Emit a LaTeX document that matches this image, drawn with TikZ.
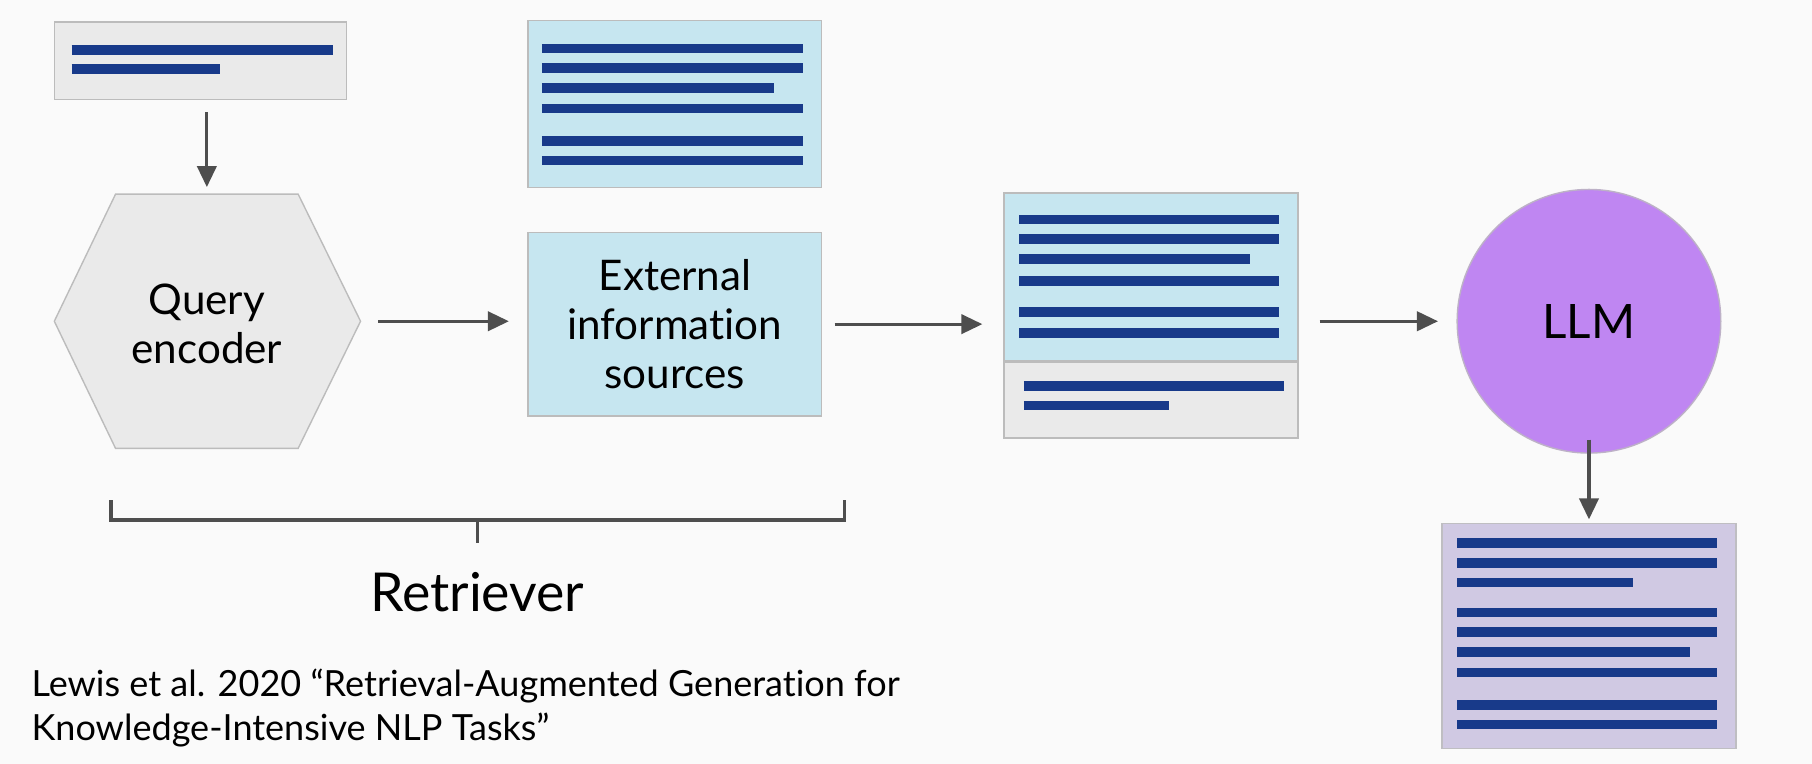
\documentclass[tikz,border=0pt]{standalone}
\usepackage{fontspec}
\setmainfont{Lato}[Ligatures=NoCommon]
\usetikzlibrary{arrows.meta}

\definecolor{bg}{RGB}{250,250,250}
\definecolor{barblue}{RGB}{24,58,138}
\definecolor{boxgrey}{RGB}{234,234,234}
\definecolor{boxblue}{RGB}{198,230,240}
\definecolor{llmpurple}{RGB}{191,134,242}
\definecolor{outlav}{RGB}{208,201,227}
\definecolor{edgegrey}{RGB}{188,188,188}
\definecolor{arrowgrey}{RGB}{78,78,78}

\tikzset{
    greybox/.style={draw=edgegrey, fill=boxgrey, line width=0.8pt, inner sep=0pt},
    bluebox/.style={draw=edgegrey, fill=boxblue, line width=0.8pt, inner sep=0pt},
    bar/.style={barblue, line width=5.5pt},
    arr/.style={arrowgrey, line width=1.8pt, -{Triangle[length=12pt,width=11pt]}},
    label/.style={align=center, font=\fontsize{24}{28}\selectfont}
}

\begin{document}
\begin{tikzpicture}[x=0.0231cm, y=-0.0231cm]
        % Background
        \fill[bg] (0,0) rectangle (1568,661);
        \useasboundingbox (0,0) rectangle (1568,661);

        % Query box
        \node[greybox, minimum width=5.84cm, minimum height=1.55cm] (query) at (173.5,52.5) {};
        \draw[bar] (62,43) -- (288,43);
        \draw[bar] (62,60) -- (190,60);

        % Query encoder
        \draw[draw=edgegrey, fill=boxgrey, line width=0.8pt]
            (100,168) coordinate (hextop) -- (258,168) -- (312,278) coordinate (hexright)
            -- (258,388) -- (100,388) -- (47,278) -- cycle;
        \node[label] (encoder) at (179,280) {Query\\encoder};

        % Source documents
        \node[bluebox, minimum width=5.87cm, minimum height=3.33cm] (docs) at (584,90) {};
        \foreach \y/\e in {42/695, 59/695, 76/670, 94/695, 122/695, 139/695} {
            \draw[bar] (469,\y) -- (\e,\y);
        }

        % External information sources
        \node[bluebox, minimum width=5.87cm, minimum height=3.67cm, label] (ext) at (584,280.5) {External\\information\\sources};

            % Retrieved context + query
            \node[bluebox, minimum width=5.87cm, minimum height=3.35cm] (ctxtop) at (996,239.5) {};
            \node[greybox, minimum width=5.87cm, minimum height=1.52cm, anchor=north] (ctxbot) at (ctxtop.south) {};
            \foreach \y/\e in {190/1107, 207/1107, 224/1082, 243/1107, 270/1107, 288/1107} {
                \draw[bar] (882,\y) -- (\e,\y);
            }
            \draw[bar] (886,334) -- (1111,334);
            \draw[bar] (886,351) -- (1012,351);

        % LLM
        \node[circle, draw=edgegrey!80!llmpurple, fill=llmpurple, line width=0.8pt, minimum size=5.27cm,
              font=\fontsize{27}{30}\selectfont] (llm) at (1375,278) {LLM};

        % Output
        \node[draw=edgegrey!85!outlav, fill=outlav, line width=0.8pt, minimum width=5.87cm, minimum height=4.5cm] (out) at (1375,550.5) {};
        \foreach \y/\e in {470/1486, 487/1486, 504/1413, 530/1486, 547/1486, 564/1462, 582/1486, 610/1486, 627/1486} {
            \draw[bar] (1261,\y) -- (\e,\y);
        }

        % Arrows
        \draw[arr, shorten <=7pt, shorten >=4pt] (query.south -| encoder) -- (hextop -| encoder);
        \draw[arr, shorten <=10pt, shorten >=10.5pt] (hexright) -- (ext.west |- hexright);
        \draw[arr, shorten <=7pt, shorten >=12pt] (ext.east) -- (ext.east -| ctxtop.west);
        \draw[arr, shorten <=12pt, shorten >=10.5pt] (llm.west -| ctxtop.east) -- (llm.west);
        \draw[arr, shorten >=2pt] ([yshift=8pt]llm.south) -- (out.north);

        % Retriever bracket
        \draw[arrowgrey, line width=1.8pt] (96,433) -- (96,450) -- (731,450) -- (731,433);
        \draw[arrowgrey, line width=1.8pt] (413,450) -- (413,470);
        \node[font=\fontsize{30.5}{34}\selectfont] (retriever) at (413,512) {Retriever};

        % Reference
        \node[anchor=west, align=left, inner sep=0pt, font=\fontsize{20.5}{25}\selectfont] (cite) at (27,613)
            {Lewis et al. 2020 “Retrieval-Augmented Generation for\\Knowledge-Intensive NLP Tasks”};

\end{tikzpicture}
\end{document}
